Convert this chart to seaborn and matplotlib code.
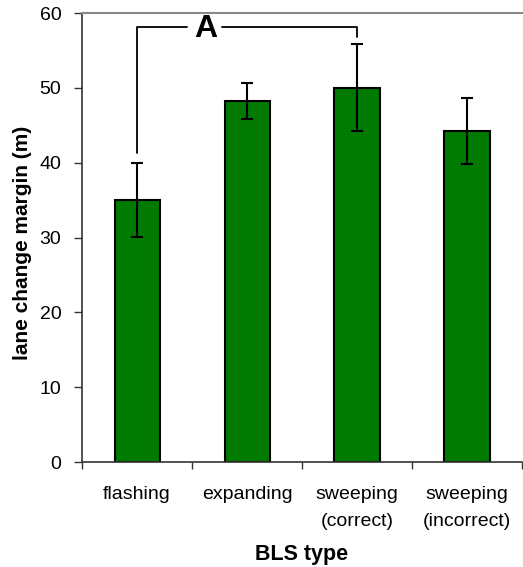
import pandas as pd
import matplotlib
matplotlib.use('Agg')
import matplotlib.pyplot as plt
import seaborn as sns
import numpy as np

categories = ['flashing', 'expanding', 'sweeping\n(correct)', 'sweeping\n(incorrect)']
margins = [35.0, 48.2, 50.0, 44.2]
errors = [4.9, 2.4, 5.8, 4.4]

sns.set_style('white')
plt.rcParams['font.family'] = ['Liberation Sans', 'DejaVu Sans']
plt.rcParams['text.color'] = 'black'
plt.rcParams['axes.labelcolor'] = 'black'
plt.rcParams['xtick.color'] = 'black'
plt.rcParams['ytick.color'] = 'black'

df = pd.DataFrame({'type': categories, 'margin': margins})

fig = plt.figure(figsize=(5.23, 5.67), dpi=100)
ax = fig.add_axes([0.157, 0.185, 0.841, 0.792])
sns.barplot(data=df, x='type', y='margin', color='#007a00', saturation=1,
            width=0.41, edgecolor='black', linewidth=1.5, ax=ax)
x = np.arange(len(categories))
ax.errorbar(x, margins, yerr=errors, fmt='none', ecolor='black',
            elinewidth=1.5, capsize=4.5, capthick=1.5)

# significance bracket between flashing and sweeping (correct)
ax.plot([0, 0, 0.45], [41.3, 58.2, 58.2], color='black', lw=1.3)
ax.plot([0.77, 2, 2], [58.2, 58.2, 56.8], color='black', lw=1.3)
ax.text(0.62, 57.9, 'A', ha='center', va='center', fontsize=23, fontweight='bold')

ax.set_xlim(-0.5, 3.5)
ax.set_ylim(0, 60)
ax.set_yticks(np.arange(0, 61, 10))
ax.set_xticks(x)
ax.set_xticklabels(categories, fontsize=14, linespacing=1.8)
ax.set_xticks(np.arange(-0.5, 3.6, 1), minor=True)
ax.tick_params(axis='x', which='major', length=0, pad=17)
ax.tick_params(axis='x', which='minor', length=5, width=1, direction='out', color='#333333')
ax.tick_params(axis='y', length=6, width=1, direction='out', color='#333333',
               labelsize=14, pad=9)
ax.yaxis.set_ticks_position('left')
ax.xaxis.set_ticks_position('bottom')
for s in ['left', 'bottom']:
    ax.spines[s].set_color('#333333')
    ax.spines[s].set_linewidth(1.2)
ax.spines['top'].set_color('#888888')
ax.spines['top'].set_linewidth(1.5)
ax.spines['right'].set_visible(False)
ax.set_ylabel('lane change margin (m)', fontsize=15, fontweight='bold')
ax.yaxis.set_label_coords(-0.115, 0.488)
ax.set_xlabel('BLS type', fontsize=15.5, fontweight='bold', labelpad=10)

plt.savefig('out.png', dpi=100)
